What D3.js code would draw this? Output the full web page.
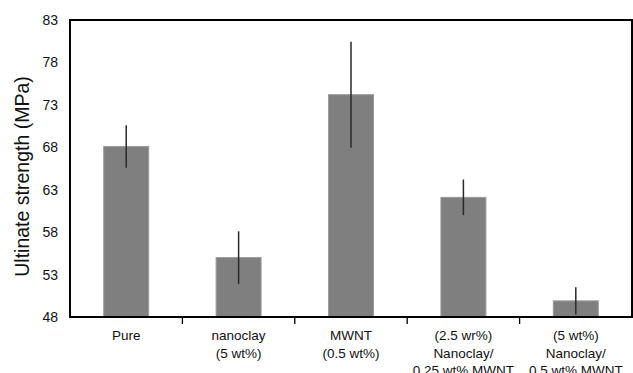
<!DOCTYPE html>
<html><head><meta charset="utf-8">
<script src="https://cdn.jsdelivr.net/npm/d3@7/dist/d3.min.js"></script>
<style>body{margin:0;background:#fff}svg{display:block}text{font-family:"Liberation Sans",Arial,sans-serif;fill:#111}</style>
</head><body><svg id="c" width="633" height="373"></svg>
<script>
const categories = [
  ["Pure"],
  ["nanoclay", "(5 wt%)"],
  ["MWNT", "(0.5 wt%)"],
  ["(2.5 wr%)", "Nanoclay/", "0.25 wt% MWNT"],
  ["(5 wt%)", "Nanoclay/", "0.5 wt% MWNT"]
];
const values = [68.1, 55.0, 74.2, 62.1, 49.9];
const errors = [2.5, 3.1, 6.25, 2.1, 1.6];
const yTicks = [48, 53, 58, 63, 68, 73, 78, 83];
const yLabel = "Ultinate strength (MPa)";

const svg = d3.select("#c");
const m = {l: 70, r: 632, t: 20, b: 317};
const x = d3.scaleBand().domain(d3.range(values.length)).range([m.l, m.r]).paddingInner(0).paddingOuter(0);
const y = d3.scaleLinear().domain([48, 83]).range([m.b, m.t]);
const bw = x.bandwidth() * 0.4;

// bars
svg.selectAll("rect.bar").data(values).join("rect")
  .attr("x", (d, i) => x(i) + x.bandwidth() / 2 - bw / 2)
  .attr("y", d => y(d))
  .attr("width", bw)
  .attr("height", d => y(48) - y(d))
  .attr("fill", "#7f7f7f").attr("stroke", "#9a9a9a").attr("stroke-width", 1);

// error bars
svg.selectAll("line.err").data(values).join("line")
  .attr("x1", (d, i) => x(i) + x.bandwidth() / 2)
  .attr("x2", (d, i) => x(i) + x.bandwidth() / 2)
  .attr("y1", (d, i) => y(d + errors[i]))
  .attr("y2", (d, i) => y(d - errors[i]))
  .attr("stroke", "#2a2a2a").attr("stroke-width", 1.5);

// frame
svg.append("rect").attr("x", m.l).attr("y", m.t).attr("width", m.r - m.l).attr("height", m.b - m.t)
  .attr("fill", "none").attr("stroke", "#000").attr("stroke-width", 2);

// x axis ticks between categories
svg.selectAll("line.xt").data(d3.range(1, values.length)).join("line")
  .attr("x1", i => x(i)).attr("x2", i => x(i))
  .attr("y1", m.b).attr("y2", m.b + 7)
  .attr("stroke", "#000").attr("stroke-width", 1.3);

// x labels
const xl = svg.selectAll("text.xl").data(categories).join("text")
  .attr("text-anchor", "middle").attr("font-size", 13.5);
xl.each(function(lines, i) {
  d3.select(this).selectAll("tspan").data(lines).join("tspan")
    .attr("x", x(i) + x.bandwidth() / 2)
    .attr("y", (d, j) => 340 + j * 17.5)
    .text(d => d);
});

// y ticks
svg.selectAll("text.yt").data(yTicks).join("text")
  .attr("x", 58).attr("y", d => y(d)).attr("dy", "0.36em")
  .attr("text-anchor", "end").attr("font-size", 14)
  .text(d => d);

// y label
svg.append("text")
  .attr("transform", "translate(29,176.5) rotate(-90)")
  .attr("text-anchor", "middle").attr("font-size", 19.5)
  .text(yLabel);
</script></body></html>
